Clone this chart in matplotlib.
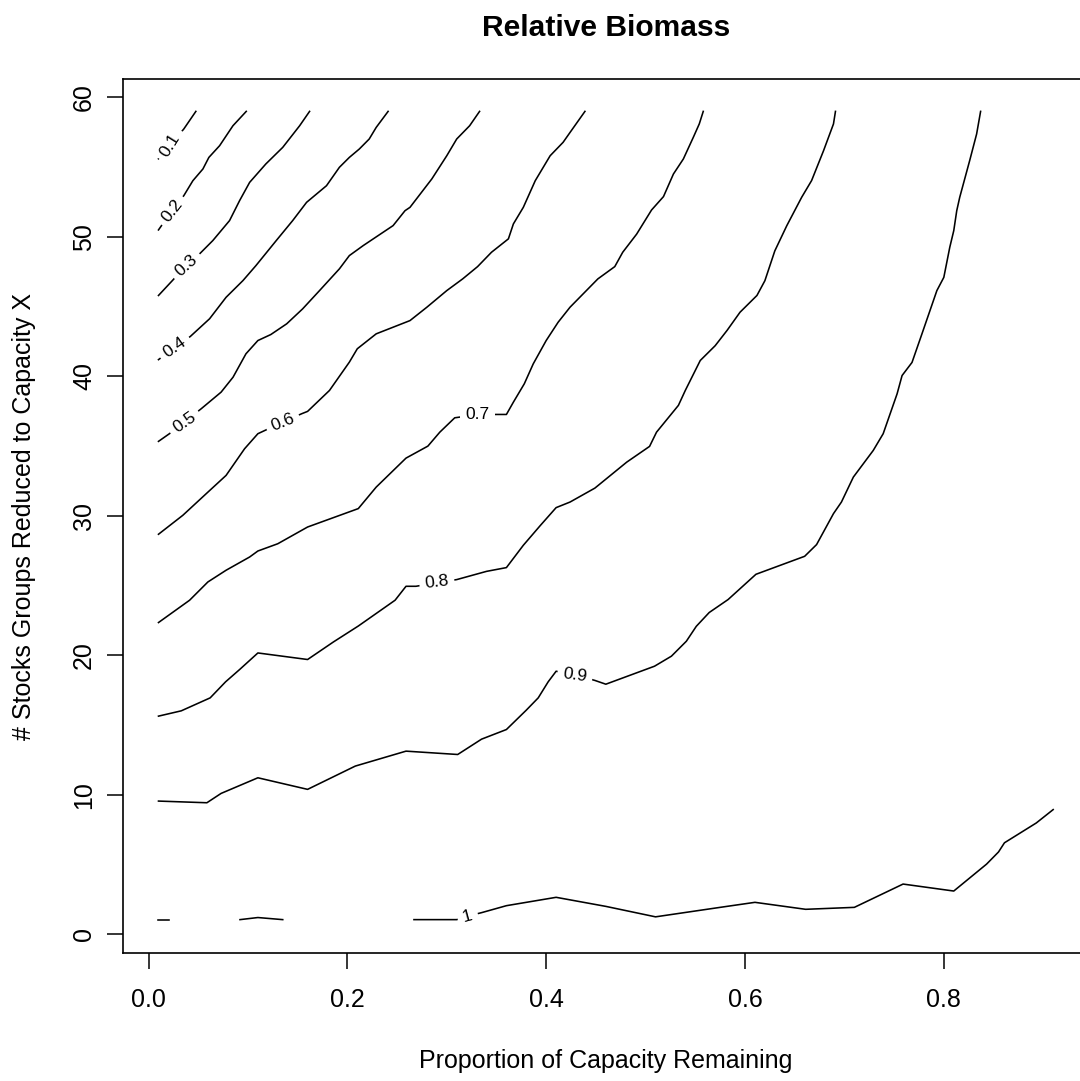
import matplotlib
matplotlib.use("Agg")
import matplotlib.pyplot as plt

plt.rcParams['font.family'] = ['Liberation Sans', 'DejaVu Sans']

# Garis kontur (x = proporsi kapasitas, y = jumlah stok)
x_01 = [0.01, 0.021, 0.0355, 0.0476]
y_01 = [55.6, 56.5, 57.74, 59.0]

x_02 = [0.01, 0.0228, 0.0355, 0.0446, 0.0547, 0.0607, 0.0715, 0.0849, 0.0983]
y_02 = [50.5, 51.8, 52.96, 54.03, 54.87, 55.7, 56.54, 57.97, 59.0]

x_03 = [0.01, 0.024, 0.038, 0.0513, 0.0647, 0.0815, 0.0916, 0.1017, 0.118, 0.135, 0.152, 0.162]
y_03 = [45.8, 46.87, 47.95, 48.78, 49.74, 51.17, 52.6, 53.91, 55.23, 56.42, 57.97, 59.0]

x_04 = [0.01, 0.025, 0.042, 0.0614, 0.078, 0.095, 0.108, 0.1285, 0.145, 0.159, 0.179,
        0.192, 0.202, 0.212, 0.222, 0.229, 0.241]
y_04 = [41.2, 42.0, 42.86, 44.13, 45.67, 46.87, 47.94, 49.74, 51.17, 52.48, 53.67,
        54.99, 55.7, 56.3, 57.02, 57.85, 59.0]

x_05 = [0.01, 0.021, 0.036, 0.053, 0.073, 0.085, 0.098, 0.11, 0.123, 0.139, 0.155, 0.172,
        0.192, 0.202, 0.216, 0.246, 0.258, 0.263, 0.285, 0.30, 0.31, 0.323, 0.333]
y_05 = [35.34, 35.89, 36.72, 37.68, 38.87, 39.94, 41.62, 42.57, 43.0, 43.77, 44.84, 46.15,
        47.71, 48.66, 49.38, 50.81, 51.88, 52.12, 54.16, 55.82, 57.02, 57.97, 59.0]

x_06 = [0.01, 0.0345, 0.0597, 0.078, 0.0966, 0.11, 0.135, 0.154, 0.16, 0.182, 0.202, 0.21,
        0.229, 0.263, 0.28, 0.30, 0.316, 0.331, 0.345, 0.362, 0.367, 0.377, 0.389, 0.404,
        0.417, 0.424, 0.439]
y_06 = [28.68, 30.04, 31.7, 32.9, 34.81, 35.89, 36.72, 37.32, 37.49, 38.99, 41.02, 41.98,
        43.05, 44.0, 44.96, 46.15, 46.99, 47.87, 48.9, 49.86, 50.93, 52.12, 54.03, 55.82,
        56.78, 57.49, 59.0]

x_07 = [0.01, 0.0413, 0.0597, 0.078, 0.1017, 0.11, 0.13, 0.16, 0.211, 0.229, 0.259, 0.281,
        0.293, 0.308, 0.33, 0.35, 0.36, 0.367, 0.378, 0.387, 0.40, 0.412, 0.424, 0.452,
        0.469, 0.477, 0.491, 0.506, 0.518, 0.528, 0.538, 0.548, 0.554, 0.558]
y_07 = [22.35, 23.95, 25.26, 26.1, 27.05, 27.48, 28.0, 29.2, 30.52, 32.06, 34.14, 35.0,
        36.0, 37.03, 37.25, 37.27, 37.27, 38.15, 39.47, 40.9, 42.57, 43.88, 44.96, 46.99,
        47.87, 48.9, 50.2, 51.93, 52.89, 54.51, 55.59, 57.14, 58.1, 59.0]

x_08 = [0.01, 0.0329, 0.062, 0.0775, 0.0916, 0.11, 0.16, 0.186, 0.211, 0.248, 0.259, 0.269,
        0.29, 0.31, 0.34, 0.36, 0.377, 0.394, 0.41, 0.424, 0.449, 0.481, 0.504, 0.511,
        0.533, 0.54, 0.555, 0.57, 0.582, 0.595, 0.612, 0.62, 0.63, 0.642, 0.657, 0.667,
        0.679, 0.684, 0.689, 0.691]
y_08 = [15.64, 16.02, 16.95, 18.1, 18.98, 20.17, 19.7, 20.96, 22.1, 23.95, 24.95, 24.95,
        25.2, 25.43, 26.02, 26.29, 27.89, 29.3, 30.59, 30.99, 31.99, 33.85, 34.98, 36.0,
        37.92, 39.0, 41.14, 42.2, 43.3, 44.6, 45.8, 46.86, 49.0, 50.8, 52.84, 54.04,
        56.18, 57.14, 58.1, 59.0]

x_09 = [0.01, 0.0587, 0.073, 0.11, 0.16, 0.208, 0.259, 0.311, 0.335, 0.36, 0.38, 0.392,
        0.402, 0.41, 0.429, 0.449, 0.46, 0.509, 0.526, 0.541, 0.551, 0.564, 0.583, 0.611,
        0.66, 0.672, 0.689, 0.697, 0.709, 0.729, 0.739, 0.753, 0.758, 0.768, 0.778, 0.793,
        0.80, 0.806, 0.81, 0.813, 0.816, 0.826, 0.833, 0.837]
y_09 = [9.55, 9.43, 10.1, 11.22, 10.39, 12.06, 13.13, 12.89, 13.99, 14.68, 16.07, 16.95,
        18.1, 18.86, 18.6, 18.2, 17.93, 19.22, 19.94, 21.01, 22.08, 23.07, 24.0, 25.81,
        27.1, 27.94, 30.16, 30.99, 32.78, 34.69, 35.89, 38.75, 40.06, 41.0, 43.05, 46.15,
        47.1, 49.26, 50.45, 51.88, 52.84, 55.47, 57.38, 59.0]

# kontur 1 terputus menjadi tiga potong
x_10a = [0.01, 0.021]
y_10a = [1.05, 1.05]
x_10b = [0.092, 0.11, 0.135]
y_10b = [1.05, 1.2, 1.05]
x_10c = [0.267, 0.31, 0.321, 0.335, 0.36, 0.41, 0.46, 0.51, 0.575, 0.61, 0.661, 0.71,
         0.759, 0.81, 0.843, 0.855, 0.861, 0.893, 0.91]
y_10c = [1.05, 1.05, 1.3, 1.55, 2.05, 2.65, 2.0, 1.25, 1.93, 2.29, 1.79, 1.93,
         3.6, 3.1, 5.03, 5.9, 6.56, 7.98, 8.94]

# label kontur: teks, posisi, sudut
label_txt = ['0.1', '0.2', '0.3', '0.4', '0.5', '0.6', '0.7', '0.8', '0.9', '1']
label_x = [0.022, 0.0235, 0.038, 0.026, 0.036, 0.135, 0.331, 0.29, 0.429, 0.321]
label_y = [56.6, 51.9, 47.95, 42.1, 36.72, 36.72, 37.25, 25.25, 18.6, 1.3]
label_rot = [58, 52, 42, 35, 35, 22, 0, 7, -8, 15]

fig = plt.figure(figsize=(10.8, 10.81), dpi=100)
ax = fig.add_axes([0.1136, 0.1187, 0.8947, 0.8082])

garis = [(x_01, y_01), (x_02, y_02), (x_03, y_03), (x_04, y_04), (x_05, y_05),
         (x_06, y_06), (x_07, y_07), (x_08, y_08), (x_09, y_09),
         (x_10a, y_10a), (x_10b, y_10b), (x_10c, y_10c)]
for xs, ys in garis:
    ax.plot(xs, ys, color='black', lw=1.15, solid_joinstyle='round', zorder=2)

for t, lx, ly, r in zip(label_txt, label_x, label_y, label_rot):
    ax.text(lx, ly, t, rotation=r, rotation_mode='anchor', ha='center', va='center',
            fontsize=12.5, zorder=3,
            bbox=dict(facecolor='white', edgecolor='none', pad=4))

ax.set_xlim(-0.026, 0.946)
ax.set_ylim(-1.32, 61.32)

ax.set_xticks([0.0, 0.2, 0.4, 0.6, 0.8])
ax.set_xticklabels(['0.0', '0.2', '0.4', '0.6', '0.8'])
ax.set_yticks([0, 10, 20, 30, 40, 50, 60])
ax.tick_params(axis='both', length=11.3, width=1.1, labelsize=18, color='black')
ax.tick_params(axis='x', pad=14)
ax.tick_params(axis='y', pad=8)
plt.setp(ax.get_yticklabels(), rotation=90, va='center')

for s in ax.spines.values():
    s.set_linewidth(1.2)
    s.set_color('black')

fig.text(606 / 1080, 1 - 28 / 1081, 'Relative Biomass', fontsize=21.6, weight='bold',
         ha='center', va='center')
fig.text(606 / 1080, 1 - 1061 / 1081, 'Proportion of Capacity Remaining', fontsize=18,
         ha='center', va='center')
fig.text(24 / 1080, 1 - 516 / 1081, '# Stocks Groups Reduced to Capacity X', fontsize=18,
         rotation=90, ha='center', va='center')

fig.savefig('out.png', dpi=100)
